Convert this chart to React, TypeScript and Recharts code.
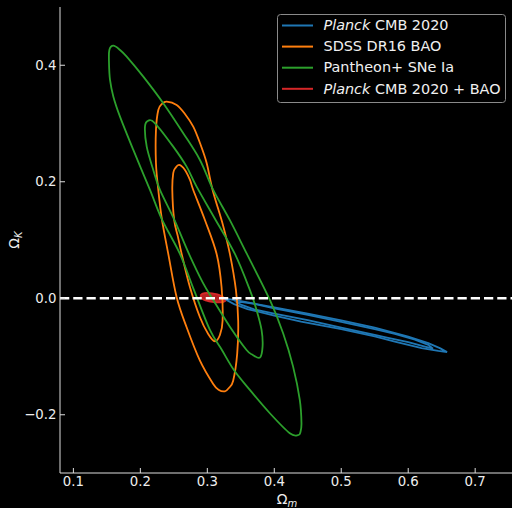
import React from 'react';
import { ComposedChart, Line, Area, XAxis, YAxis, ReferenceLine, Legend, Label } from 'recharts';

type Pt = [number, number];

const xTicks = [0.1, 0.2, 0.3, 0.4, 0.5, 0.6, 0.7];
const yTicks = [-0.2, 0, 0.2, 0.4];

// Planck CMB 2020 (outer / inner contour), [Ωm, ΩK]
const planckOuter: Pt[] = [
  [0.45, -0.0265], [0.5, -0.038], [0.55, -0.0505], [0.575, -0.058], [0.6, -0.066], [0.63, -0.077],
  [0.648, -0.086], [0.658, -0.0925], [0.645, -0.0905], [0.62, -0.0855], [0.58, -0.0745], [0.55, -0.0655],
  [0.5, -0.053], [0.44, -0.04], [0.4, -0.03], [0.36, -0.0185], [0.34, -0.01], [0.33, -0.004],
  [0.327, -0.001], [0.335, -0.002], [0.35, -0.005], [0.4, -0.0155], [0.45, -0.0265],
];
const planckInner: Pt[] = [
  [0.45, -0.0285], [0.5, -0.0405], [0.55, -0.053], [0.58, -0.061], [0.61, -0.071], [0.63, -0.08],
  [0.637, -0.0865], [0.625, -0.083], [0.6, -0.0755], [0.57, -0.068], [0.55, -0.063], [0.5, -0.0505],
  [0.45, -0.0375], [0.4, -0.0265], [0.37, -0.019], [0.35, -0.011], [0.344, -0.0065], [0.352, -0.0065],
  [0.37, -0.0095], [0.4, -0.0175], [0.45, -0.0285],
];

// SDSS DR16 BAO
const sdssOuter: Pt[] = [
  [0.2542, 0.0017], [0.2691, -0.0498], [0.289, -0.1071], [0.3088, -0.1471], [0.3173, -0.1574],
  [0.3262, -0.1597], [0.3322, -0.154], [0.3386, -0.1415], [0.3446, -0.0956], [0.3461, -0.039],
  [0.3427, 0.0143], [0.3337, 0.0761], [0.3233, 0.1258], [0.3079, 0.1859], [0.299, 0.2323],
  [0.289, 0.2666], [0.279, 0.2947], [0.2666, 0.3164], [0.2542, 0.3318], [0.2393, 0.3375],
  [0.2323, 0.3336], [0.2268, 0.3233], [0.2233, 0.2889], [0.2233, 0.2323], [0.2268, 0.1859],
  [0.2323, 0.1344], [0.2417, 0.0761],
];
const sdssInner: Pt[] = [
  [0.2617, 0.0761], [0.2741, 0.0189], [0.289, -0.0326], [0.3013, -0.0613], [0.3113, -0.0738],
  [0.3188, -0.063], [0.3228, -0.0385], [0.3213, 0.0189], [0.3139, 0.0761], [0.2964, 0.1344],
  [0.279, 0.1859], [0.2741, 0.2031], [0.2666, 0.2203], [0.2581, 0.2288], [0.2524, 0.2237],
  [0.2491, 0.2146], [0.2477, 0.1859], [0.2505, 0.1344], [0.2562, 0.105],
];

// Pantheon+ SNe Ia
const pantheonOuter: Pt[] = [
  [0.2144, 0.1859], [0.2326, 0.1344], [0.2591, 0.0761], [0.28, 0.0143], [0.3039, -0.0544],
  [0.3218, -0.0888], [0.3397, -0.1231], [0.3635, -0.1574], [0.3934, -0.1974], [0.4232, -0.2318],
  [0.4356, -0.235], [0.439, -0.23], [0.4406, -0.2146], [0.4381, -0.1746], [0.4281, -0.1174],
  [0.4132, -0.0601], [0.3934, -0.0029], [0.3591, 0.0761], [0.3337, 0.134], [0.3088, 0.1859],
  [0.289, 0.2374], [0.2641, 0.2833], [0.2342, 0.3348], [0.2044, 0.3804], [0.1796, 0.4148],
  [0.1696, 0.4263], [0.1597, 0.4336], [0.1537, 0.4263], [0.1532, 0.4034], [0.1547, 0.3748],
  [0.1597, 0.3461], [0.1696, 0.3118], [0.1895, 0.2546],
];
const pantheonInner: Pt[] = [
  [0.2293, 0.1859], [0.2508, 0.1344], [0.2726, 0.0761], [0.2935, 0.0263], [0.3088, -0.0029],
  [0.3337, -0.0488], [0.3586, -0.0888], [0.368, -0.0973], [0.3785, -0.102], [0.3825, -0.0831],
  [0.381, -0.0544], [0.3735, -0.0201], [0.3635, 0.0143], [0.3412, 0.0761], [0.3124, 0.1344],
  [0.284, 0.1916], [0.2691, 0.2259], [0.2491, 0.2603], [0.2219, 0.3004], [0.2119, 0.3049],
  [0.2069, 0.2946], [0.2095, 0.2603], [0.2193, 0.2203],
];

// Planck CMB 2020 + BAO (filled region)
const combinedX = [0.2895, 0.293, 0.299, 0.307, 0.315, 0.321, 0.326, 0.3285];
const combinedLo = [0.0035, -0.0015, -0.004, -0.006, -0.007, -0.007, -0.005, -0.003];
const combinedHi = [0.0045, 0.008, 0.009, 0.0085, 0.0065, 0.0035, 0.0, -0.0015];

const legendItems = [
  { italic: 'Planck', text: ' CMB 2020', color: '#1f77b4' },
  { italic: '', text: 'SDSS DR16 BAO', color: '#ff7f0e' },
  { italic: '', text: 'Pantheon+ SNe Ia', color: '#2ca02c' },
  { italic: 'Planck', text: ' CMB 2020 + BAO', color: '#d62728' },
];

const FONT = 'DejaVu Sans';
const toRows = (pts: Pt[]) => pts.map(([x, y]) => ({ x, y }));
const combinedRows = combinedX.map((x, i) => ({ x, r: [combinedLo[i], combinedHi[i]] }));
const fmtY = (v: number) => (v < 0 ? '\u2212' + Math.abs(v).toFixed(1) : v.toFixed(1));

// closed Catmull-Rom curve, so the contour loops come out smooth
function smoothClosed(context: any) {
  let pts: number[][] = [];
  return {
    areaStart() {},
    areaEnd() {},
    lineStart() {
      pts = [];
    },
    point(x: number, y: number) {
      pts.push([x, y]);
    },
    lineEnd() {
      const n = pts.length;
      if (!n) return;
      context.moveTo(pts[0][0], pts[0][1]);
      for (let i = 0; i < n; i++) {
        const p0 = pts[(i - 1 + n) % n];
        const p1 = pts[i];
        const p2 = pts[(i + 1) % n];
        const p3 = pts[(i + 2) % n];
        context.bezierCurveTo(
          p1[0] + (p2[0] - p0[0]) / 6,
          p1[1] + (p2[1] - p0[1]) / 6,
          p2[0] - (p3[0] - p1[0]) / 6,
          p2[1] - (p3[1] - p1[1]) / 6,
          p2[0],
          p2[1],
        );
      }
      context.closePath();
    },
  };
}

const contours = [
  { rows: toRows(planckOuter), color: '#1f77b4', type: 'linear' as any },
  { rows: toRows(planckInner), color: '#1f77b4', type: 'linear' as any },
  { rows: toRows(sdssOuter), color: '#ff7f0e', type: smoothClosed as any },
  { rows: toRows(sdssInner), color: '#ff7f0e', type: smoothClosed as any },
  { rows: toRows(pantheonOuter), color: '#2ca02c', type: smoothClosed as any },
  { rows: toRows(pantheonInner), color: '#2ca02c', type: smoothClosed as any },
];

function LegendBox() {
  return (
    <svg width={230} height={90} style={{ display: 'block' }}>
      <rect x={0.5} y={0.5} width={228} height={88} rx={3} fill="rgba(0,0,0,0.8)" stroke="#8a8a8a" strokeWidth={1} />
      {legendItems.map((it, i) => (
        <g key={i}>
          <line x1={5} x2={36} y1={11.5 + i * 21.1} y2={11.5 + i * 21.1} stroke={it.color} strokeWidth={2} />
          <text x={46.5} y={16.2 + i * 21.1} fill="#f0f0f0" fontSize={14.4} fontFamily={FONT}>
            {it.italic && <tspan fontStyle="italic">{it.italic}</tspan>}
            {it.text}
          </text>
        </g>
      ))}
    </svg>
  );
}

export default function App() {
  const tickStyle = { fill: '#eeeeee', fontSize: 13.3, fontFamily: FONT };
  return (
    <div style={{ position: 'absolute', left: 0, top: 0, width: 512, height: 508, background: '#000', overflow: 'hidden' }}>
      <ComposedChart width={512} height={508} margin={{ top: 7, right: 0, bottom: 0, left: 0 }}>
        <XAxis
          dataKey="x"
          type="number"
          domain={[0.08, 0.755]}
          allowDataOverflow
          ticks={xTicks}
          interval={0}
          height={35}
          tickSize={-5}
          tickMargin={9}
          stroke="#dddddd"
          tick={tickStyle}
          tickFormatter={(v: number) => v.toFixed(1)}
        >
          <Label
            content={() => (
              <text x={287} y={503.5} textAnchor="middle" fill="#eeeeee" fontSize={14} fontFamily={FONT}>
                Ω<tspan fontSize={10} fontStyle="italic" dy={3}>m</tspan>
              </text>
            )}
          />
        </XAxis>
        <XAxis
          xAxisId="top"
          orientation="top"
          type="number"
          domain={[0.08, 0.755]}
          allowDataOverflow
          ticks={xTicks}
          interval={0}
          height={0}
          tickSize={-5}
          tick={false}
          stroke="#dddddd"
        />
        <YAxis
          type="number"
          domain={[-0.3, 0.5]}
          allowDataOverflow
          ticks={yTicks}
          interval={0}
          width={60}
          tickSize={-5}
          tickMargin={8.5}
          stroke="#dddddd"
          tick={tickStyle}
          tickFormatter={fmtY}
        >
          <Label
            content={() => (
              <text transform="translate(18.5,240) rotate(-90)" textAnchor="middle" fill="#eeeeee" fontSize={14} fontFamily={FONT}>
                Ω<tspan fontSize={10} fontStyle="italic" dy={3}>K</tspan>
              </text>
            )}
          />
        </YAxis>
        <YAxis
          yAxisId="right"
          orientation="right"
          type="number"
          domain={[-0.3, 0.5]}
          allowDataOverflow
          ticks={yTicks}
          interval={0}
          width={0}
          tickSize={-5}
          tick={false}
          stroke="#dddddd"
        />
        {contours.map((c, i) => (
          <Line
            key={i}
            data={c.rows}
            dataKey="y"
            type={c.type}
            stroke={c.color}
            strokeWidth={1.8}
            dot={false}
            activeDot={false}
            isAnimationActive={false}
          />
        ))}
        <Area
          data={combinedRows}
          dataKey="r"
          type="monotone"
          stroke="#d62728"
          strokeWidth={1.8}
          fill="#d62728"
          fillOpacity={0.85}
          isAnimationActive={false}
        />
        <ReferenceLine y={0} stroke="#ffffff" strokeWidth={2.5} strokeDasharray="9.25 4" />
        <Legend
          layout="horizontal"
          align="center"
          verticalAlign="middle"
          wrapperStyle={{ left: 277, top: 14, width: 230, height: 90 }}
          content={() => <LegendBox />}
        />
      </ComposedChart>
    </div>
  );
}
